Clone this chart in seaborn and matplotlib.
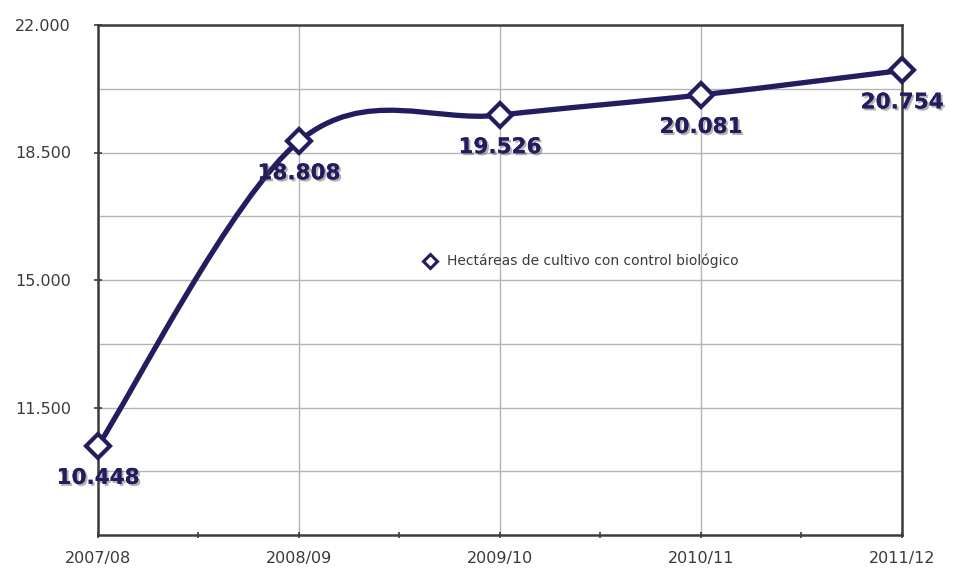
import numpy as np
import pandas as pd
import matplotlib
matplotlib.use("Agg")
import matplotlib.pyplot as plt
import matplotlib.patheffects as pe
from matplotlib.path import Path
from matplotlib.patches import PathPatch
from matplotlib.lines import Line2D
import seaborn as sns

# ---- data ----
categories = ["2007/08", "2008/09", "2009/10", "2010/11", "2011/12"]
hectares = [10448, 18808, 19526, 20081, 20754]
value_labels = ["10.448", "18.808", "19.526", "20.081", "20.754"]
series_name = "Hectáreas de cultivo con control biológico"
y_major_ticks = [11500, 15000, 18500, 22000]
y_major_labels = ["11.500", "15.000", "18.500", "22.000"]
y_grid_ticks = [9750, 13250, 16750, 20250]

NAVY = "#211d5e"
SPINE = "#3c3c3c"
GRID = "#b4b4b4"
TXT = "#3a3a3a"

sns.set_theme(style="white")
plt.rcParams['font.family'] = ['DejaVu Sans']

fig = plt.figure(figsize=(9.54, 5.74), dpi=100)
ax = fig.add_axes([98/954, 1 - 535/574, (902-98)/954, (535-25)/574])

df = pd.DataFrame({"x": np.arange(len(categories)), "y": hectares})

# smooth line (Catmull-Rom style bezier through the data points)
xs = df["x"].to_numpy(dtype=float)
ys = df["y"].to_numpy(dtype=float)
pts = np.column_stack([xs, ys])
n = len(pts)
verts = [tuple(pts[0])]
codes = [Path.MOVETO]
for i in range(n - 1):
    p0 = pts[max(i - 1, 0)]
    p1 = pts[i]
    p2 = pts[i + 1]
    p3 = pts[min(i + 2, n - 1)]
    c1 = p1 + (p2 - p0) / 6.0
    c2 = p2 - (p3 - p1) / 6.0
    verts += [tuple(c1), tuple(c2), tuple(p2)]
    codes += [Path.CURVE4] * 3
patch = PathPatch(Path(verts, codes), facecolor="none", edgecolor=NAVY,
                  lw=3.8, transform=ax.transData, zorder=3, capstyle="round")
ax.add_patch(patch)

# markers
sns.lineplot(data=df, x="x", y="y", ax=ax, linestyle="", marker="D",
             markersize=12.5, markerfacecolor="white", markeredgecolor=NAVY,
             markeredgewidth=3, color=NAVY, zorder=4, legend=False,
             clip_on=False)

# data labels
for xi, yi, lab in zip(xs, ys, value_labels):
    ax.annotate(lab, (xi, yi), xytext=(0, -32), textcoords="offset pixels",
                ha="center", va="center", fontsize=15.5, fontweight="bold",
                color=NAVY, zorder=5, annotation_clip=False,
                path_effects=[pe.withSimplePatchShadow(offset=(1.5, -1.5),
                                                        shadow_rgbFace="#555555",
                                                        alpha=0.45),
                              pe.Normal()])

ax.set_xlim(0, len(categories) - 1)
ax.set_ylim(8000, 22000)

ax.set_xticks(np.arange(len(categories)))
ax.set_xticklabels(categories)
ax.set_xticks(np.arange(len(categories) - 1) + 0.5, minor=True)
ax.set_yticks(y_major_ticks)
ax.set_yticklabels(y_major_labels)
ax.set_yticks(y_grid_ticks, minor=True)

ax.grid(True, which="both", axis="y", color=GRID, lw=1.0)
ax.grid(True, which="major", axis="x", color=GRID, lw=1.0)
ax.set_axisbelow(True)

ax.tick_params(axis="y", which="major", direction="inout", length=6, width=1.2,
               color=SPINE, left=True, pad=16.5, labelsize=11.5, labelcolor=TXT)
ax.tick_params(axis="y", which="minor", left=False)
ax.tick_params(axis="x", which="both", direction="inout", length=5, width=1.2,
               color=SPINE, bottom=True, pad=9, labelsize=11.5, labelcolor=TXT)

for s in ax.spines.values():
    s.set_visible(True)
    s.set_color(SPINE)
    s.set_linewidth(1.8)

ax.set_xlabel("")
ax.set_ylabel("")

handle = Line2D([], [], linestyle="", marker="D", markersize=7,
                markerfacecolor="white", markeredgecolor=NAVY, markeredgewidth=2.2)
leg = ax.legend([handle], [series_name], loc="center",
                bbox_to_anchor=(0.6, 0.537), frameon=False, fontsize=10,
                handletextpad=0.6, handlelength=1.2)
for t in leg.get_texts():
    t.set_color(TXT)

fig.savefig("out.png", dpi=100)
